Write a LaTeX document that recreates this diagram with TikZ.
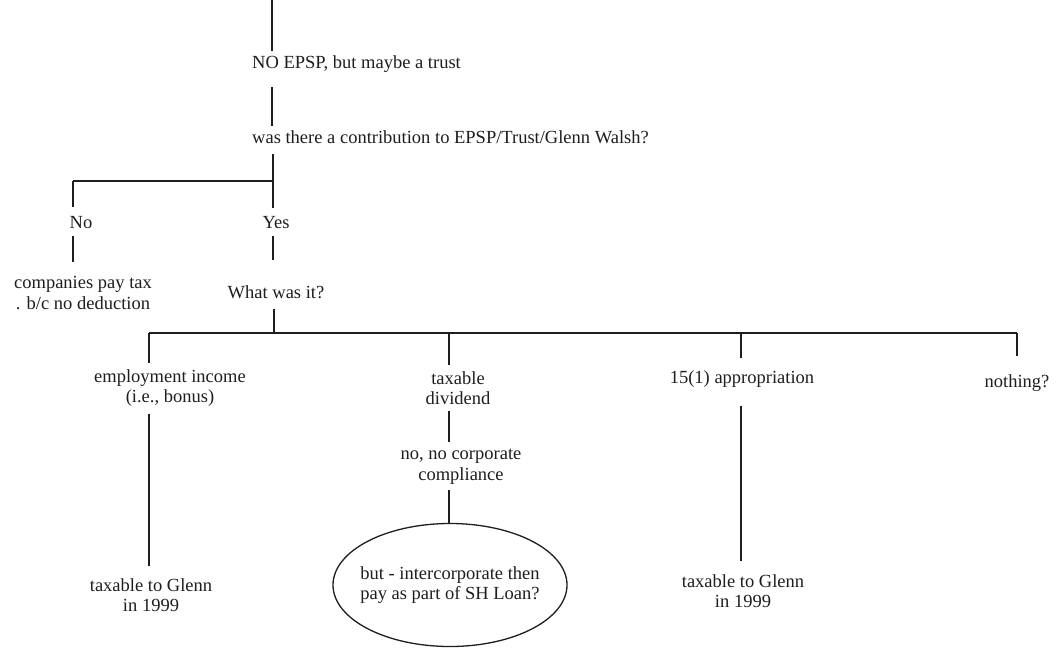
\documentclass[tikz,border=0pt]{standalone}
\usepackage{fontspec}
\setmainfont{Liberation Serif}
\usetikzlibrary{shapes.geometric}
\definecolor{ink}{RGB}{30,30,30}
\begin{document}
\begin{tikzpicture}[x=1pt,y=-1pt,
  every node/.style={font=\fontsize{18.5}{20.5}\selectfont, inner sep=0pt, text=ink},
  one/.style={text height=12.5pt, text depth=4pt},
  two/.style={align=center},
  conn/.style={line width=1.3pt, draw=ink}]
\useasboundingbox (0,0) rectangle (1061,656);

% junction coordinates
\coordinate (top) at (272,0);
\coordinate (j1) at (273,181);
\coordinate (jl) at (73,181);
\coordinate (j2) at (274,333);
\coordinate (b1) at (149,333);
\coordinate (b2) at (449,333);
\coordinate (b3) at (741,333);
\coordinate (b4) at (1017,333);

% text nodes
\node[one, anchor=west] (t1) at (252,64) {NO EPSP, but maybe a trust};
\node[one, anchor=west] (t2) at (252,139) {was there a contribution to EPSP/Trust/Glenn Walsh?};
\node[one] (no) at (81,224) {No};
\node[one] (yes) at (276,224) {Yes};
\node[two] (cp) at (83,293) {companies pay tax\\. b/c no deduction};
\node[one] (what) at (276,294) {What was it?};
\node[two] (emp) at (170,388) {employment income\\(i.e., bonus)};
\node[two] (div) at (458,388) {taxable\\dividend};
\node[one] (app) at (742,379) {15(1) appropriation};
\node[one] (noth) at (1017,383) {nothing?};
\node[two] (comp) at (461,467) {no, no corporate\\compliance};
\node[two] (tg1) at (151,595) {taxable to Glenn\\in 1999};
\node[two] (tg2) at (743,591) {taxable to Glenn\\in 1999};
\node[two, ellipse, conn, inner xsep=-9pt, minimum width=234pt, minimum height=123pt] (ell) at (450,585) {but - intercorporate then\\pay as part of SH Loan?};

% connectors
\draw[conn, shorten >=4.5pt] (top) -- (t1.north -| top);
\draw[conn, shorten <=15pt, shorten >=4.7pt] (t1.south -| top) -- (t2.north -| top);
\draw[conn, shorten <=7pt] (t2.south -| j1) -- (j1);
\draw[conn] (j1) -- (jl);
\draw[conn, shorten >=9pt] (jl) -- (no.north -| jl);
\draw[conn, shorten >=8pt] (j1) -- (yes.north -| j1);
\draw[conn, shorten <=3.5pt, shorten >=14pt] (no.south -| jl) -- (cp.north -| jl);
\draw[conn, shorten <=3.5pt, shorten >=25.5pt] (yes.south -| j1) -- (what.north -| j1);
\draw[conn, shorten <=7pt] (what.south -| j2) -- (j2);
\draw[conn] (b1) -- (b4);
\draw[conn, shorten >=6.5pt] (b1) -- (emp.north -| b1);
\draw[conn, shorten >=6.5pt] (b2) -- (div.north -| b2);
\draw[conn, shorten >=12.5pt] (b3) -- (app.north -| b3);
\draw[conn, shorten >=18.5pt] (b4) -- (noth.north -| b4);
\draw[conn, shorten <=7.5pt, shorten >=12.5pt] (emp.south -| b1) -- (tg1.north -| b1);
\draw[conn, shorten <=18.5pt, shorten >=13.5pt] (app.south -| b3) -- (tg2.north -| b3);
\draw[conn, shorten <=6.5pt, shorten >=7.5pt] (div.south -| b2) -- (comp.north -| b2);
\draw[conn, shorten <=5.5pt] (comp.south -| b2) -- (ell.north -| b2);
\end{tikzpicture}
\end{document}
